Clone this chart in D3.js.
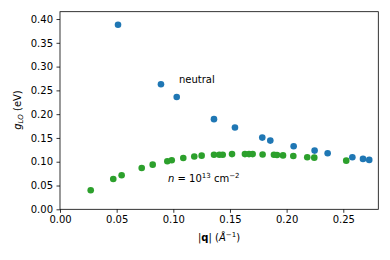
<!DOCTYPE html>
<html lang="en">
<head>
    <meta charset="UTF-8">
    <title>g_LO vs |q|</title>
    <script src="https://d3js.org/d3.v7.min.js"></script>
    <style>
        body { margin: 0; font-family: "DejaVu Sans", sans-serif; background: #fff; }
        .tick text { font-size: 10px; font-family: "DejaVu Sans", sans-serif; fill: #000; }
        .tick line { stroke: #000; stroke-width: 0.8px; }
        .domain { display: none; }
        .label { font-size: 10px; fill: #000; }
    </style>
</head>
<body>
    <div id="chart"></div>

    <script>
        // neutral
        const neutralQ = [0.0512, 0.0891, 0.1030, 0.1359, 0.1544, 0.1785, 0.1856, 0.2062, 0.2247, 0.2362, 0.2580, 0.2674, 0.2729];
        const neutralG = [0.388, 0.263, 0.236, 0.1895, 0.172, 0.1507, 0.1444, 0.1326, 0.1234, 0.1179, 0.1095, 0.1059, 0.1038];
        // doped, n = 1e13 cm^-2
        const dopedQ = [0.0271, 0.0470, 0.0544, 0.0721, 0.0818, 0.0947, 0.0986, 0.1088, 0.1185, 0.1250, 0.1359, 0.1406, 0.1436,
                        0.1518, 0.1632, 0.1668, 0.1700, 0.1788, 0.1888, 0.1915, 0.1968, 0.2059, 0.2182, 0.2244, 0.2526];
        const dopedG = [0.040, 0.0638, 0.0716, 0.0869, 0.0939, 0.101, 0.103, 0.108, 0.1110, 0.1128, 0.1147, 0.1147, 0.1147,
                        0.1160, 0.1160, 0.1160, 0.1160, 0.1153, 0.1147, 0.1140, 0.1133, 0.1120, 0.1093, 0.1086, 0.1023];
        const xTicks = [0.00, 0.05, 0.10, 0.15, 0.20, 0.25];
        const yTicks = [0.00, 0.05, 0.10, 0.15, 0.20, 0.25, 0.30, 0.35, 0.40];

        const width = 390, height = 260;
        const margin = {left: 60, right: 11.7, top: 11.7, bottom: 50.7};

        const x = d3.scaleLinear().domain([0, 0.2809]).range([margin.left, width - margin.right]);
        const y = d3.scaleLinear().domain([0, 0.4154]).range([height - margin.bottom, margin.top]);

        const svg = d3.select("#chart").append("svg")
            .attr("width", width)
            .attr("height", height);

        svg.append("g")
            .attr("transform", "translate(0," + (height - margin.bottom) + ")")
            .call(d3.axisBottom(x).tickValues(xTicks).tickFormat(d3.format(".2f")).tickSize(3.5).tickPadding(3.5));

        svg.append("g")
            .attr("transform", "translate(" + margin.left + ",0)")
            .call(d3.axisLeft(y).tickValues(yTicks).tickFormat(d3.format(".2f")).tickSize(3.5).tickPadding(3.5));

        // frame
        svg.append("rect")
            .attr("x", margin.left)
            .attr("y", margin.top)
            .attr("width", width - margin.left - margin.right)
            .attr("height", height - margin.top - margin.bottom)
            .attr("fill", "none")
            .attr("stroke", "#000")
            .attr("stroke-width", 0.8);

        svg.append("g").selectAll("circle")
            .data(neutralQ.map((q, i) => [q, neutralG[i]]))
            .enter().append("circle")
            .attr("cx", d => x(d[0]))
            .attr("cy", d => y(d[1]))
            .attr("r", 3.3)
            .attr("fill", "#1f77b4");

        svg.append("g").selectAll("circle")
            .data(dopedQ.map((q, i) => [q, dopedG[i]]))
            .enter().append("circle")
            .attr("cx", d => x(d[0]))
            .attr("cy", d => y(d[1]))
            .attr("r", 3.3)
            .attr("fill", "#2ca02c");

        // annotations
        svg.append("text")
            .attr("class", "label")
            .attr("x", 179)
            .attr("y", 83)
            .text("neutral");

        const nt = svg.append("text")
            .attr("class", "label")
            .attr("x", 168)
            .attr("y", 182);
        nt.append("tspan").attr("font-style", "italic").text("n");
        nt.append("tspan").text(" = 10");
        nt.append("tspan").attr("font-size", "7px").attr("dy", -4).text("13");
        nt.append("tspan").attr("dy", 4).text(" cm");
        nt.append("tspan").attr("font-size", "7px").attr("dy", -4).text("\u22122");

        // axis labels
        const xl = svg.append("text")
            .attr("class", "label")
            .attr("x", 219)
            .attr("y", 241)
            .attr("text-anchor", "middle");
        xl.append("tspan").text("|");
        xl.append("tspan").attr("font-weight", "bold").text("q");
        xl.append("tspan").text("| (");
        xl.append("tspan").attr("font-style", "italic").text("\u00c5");
        xl.append("tspan").attr("font-size", "7px").attr("dy", -4).text("\u22121");
        xl.append("tspan").attr("dy", 4).text(")");

        const yl = svg.append("text")
            .attr("class", "label")
            .attr("transform", "translate(21,110) rotate(-90)")
            .attr("text-anchor", "middle");
        yl.append("tspan").attr("font-style", "italic").text("g");
        yl.append("tspan").attr("font-style", "italic").attr("font-size", "7px").attr("dy", 2).text("LO");
        yl.append("tspan").attr("dy", -2).text(" (eV)");
    </script>
</body>
</html>
